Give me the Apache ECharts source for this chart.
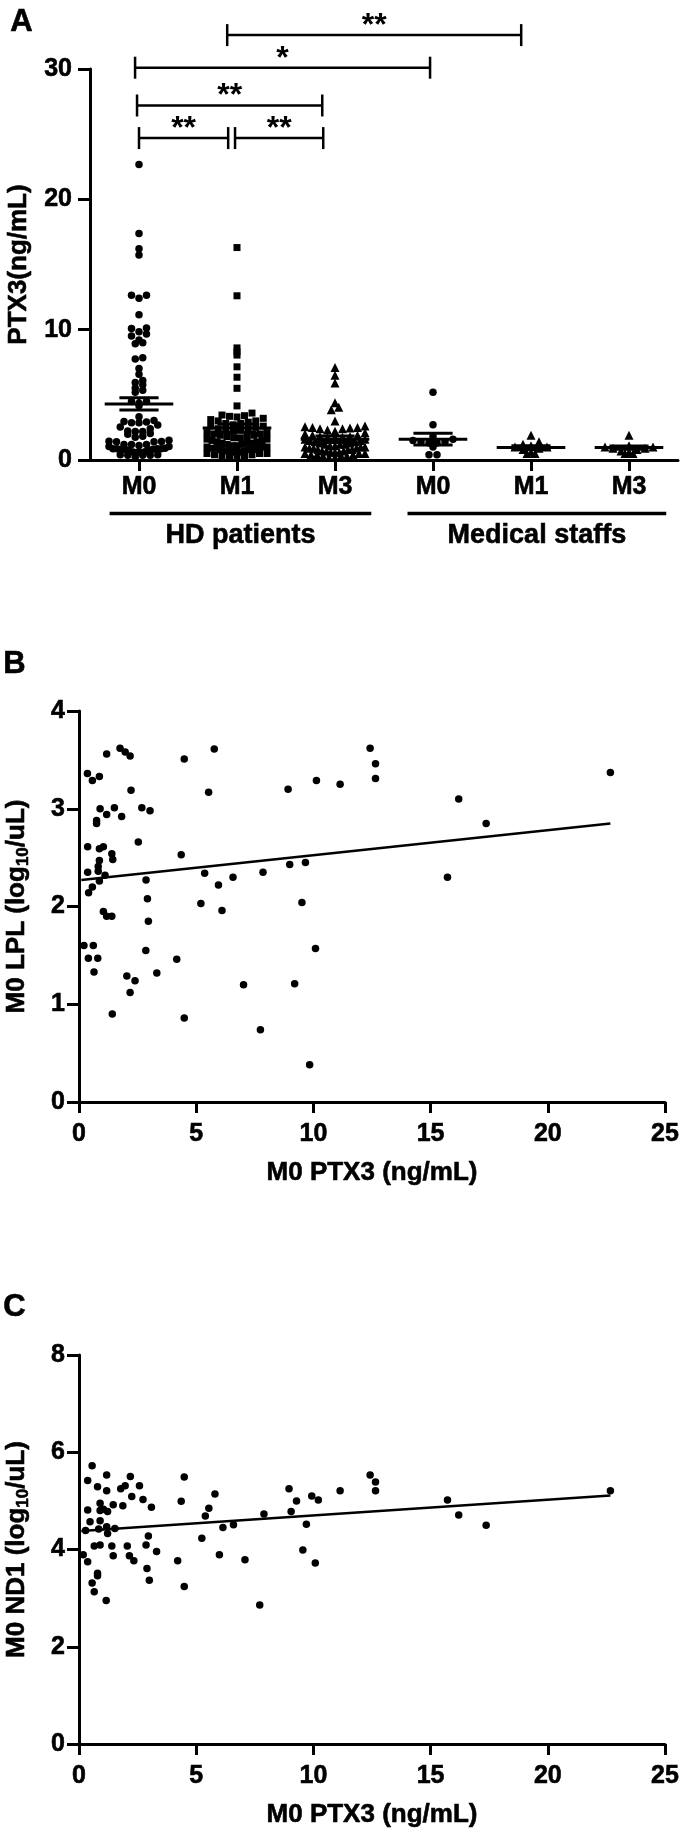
<!DOCTYPE html>
<html>
<head>
<meta charset="utf-8">
<script src="https://cdn.jsdelivr.net/npm/echarts@6/dist/echarts.min.js"></script>
<style>html,body{margin:0;background:#fff}#chart{width:685px;height:1840px}</style>
</head>
<body>
<div id="chart"></div>
<script>
// ---- panel A: PTX3 per group ----
const groupLabels = ['M0', 'M1', 'M3', 'M0', 'M1', 'M3']
const groupSymbols = ['circle', 'rect', 'triangle', 'circle', 'triangle', 'triangle']
const hdM0 = [0.21, 0.36, 0.37, 0.37, 0.4, 0.41, 0.57, 0.57, 0.61, 0.64, 0.75, 0.75, 0.8, 0.82, 0.82, 0.87, 0.87, 0.87, 0.87, 0.9,
  1.04, 1.04, 1.11, 1.18, 1.18, 1.18, 1.4, 1.4, 1.42, 1.44, 1.51, 1.75, 1.82, 1.97, 2.04, 2.18, 2.18, 2.22, 2.39, 2.53, 2.68,
  2.85, 2.86, 2.92, 2.96, 3.03, 3.32, 4.17, 4.36, 4.49, 4.49, 5.2, 5.36, 5.53, 5.77, 5.95, 6.1, 6.57, 7.02, 7.74, 7.85, 8.92,
  8.99, 9.2, 9.51, 9.66, 9.84, 10.09, 10.13, 11.14, 12.42, 12.65, 12.65, 15.72, 16.2, 17.37, 22.67]
const hdM1 = [16.3, 12.6, 8.6, 8.3, 8.05, 7.15, 6.35, 5.5, 4.15, 3.6, 3.45, 3.4, 3.35, 3.3, 3.2, 3.1, 3.0, 3.0, 2.9, 2.8, 2.8,
  2.7, 2.6, 2.6, 2.5, 2.4, 2.4, 2.3, 2.3, 2.2, 2.1, 2.1, 2.0, 2.0, 1.9, 1.9, 1.8, 1.8, 1.7, 1.7, 1.6, 1.6, 1.5, 1.5, 1.4, 1.4,
  1.3, 1.3, 1.3, 1.2, 1.2, 1.1, 1.1, 1.0, 1.0, 1.0, 0.9, 0.9, 0.9, 0.8, 0.8, 0.8, 0.7, 0.7, 0.7, 0.6, 0.6, 0.5, 0.5, 0.5, 0.4,
  0.4, 0.3, 0.3, 0.2, 0.2]
const hdM3 = [7.1, 6.5, 5.9, 4.4, 4.05, 3.85, 3.0, 2.6, 2.55, 2.5, 2.5, 2.45, 2.4, 2.4, 2.3, 2.2, 2.1, 2.0, 1.9, 1.9, 1.8, 1.8,
  1.75, 1.7, 1.7, 1.6, 1.6, 1.5, 1.5, 1.4, 1.4, 1.3, 1.3, 1.2, 1.2, 1.2, 1.1, 1.1, 1.0, 1.0, 1.0, 0.9, 0.9, 0.9, 0.8, 0.8,
  0.8, 0.7, 0.7, 0.7, 0.6, 0.6, 0.6, 0.5, 0.5, 0.5, 0.4, 0.4, 0.4, 0.3, 0.3, 0.3, 0.2, 0.2]
const staffM0 = [5.2, 2.7, 1.8, 1.6, 1.5, 1.4, 1.4, 1.3, 1.3, 1.0, 0.4, 0.4]
const staffM1 = [1.9, 1.4, 1.2, 1.1, 1.0, 1.0, 0.9, 0.8, 0.6, 0.5, 0.5]
const staffM3 = [1.9, 1.1, 1.0, 1.0, 0.9, 0.9, 0.8, 0.7, 0.6, 0.5, 0.5]
const groupMeans = [4.3, 2.45, 1.6, 1.6, 0.95, 0.95]
const groupSems = [0.47, 0.32, 0.25, 0.45, 0.15, 0.12]

const cohortNames = ['HD patients', 'Medical staffs']
const cohortFrom = [-0.3, 2.74]
const cohortTo = [2.37, 5.38]

const bracketFrom = [0.9, -0.04, -0.02, 0.0, 0.98]
const bracketTo = [3.9, 2.97, 1.87, 0.91, 1.88]
const bracketLevel = [32.6, 30.1, 27.2, 24.7, 24.7]
const bracketText = ['**', '*', '**', '**', '**']

// ---- panel B: M0 PTX3 vs M0 LPL ----
const lplPoints = [[0.36, 3.36], [0.57, 3.29], [0.87, 3.33], [1.18, 3.56], [1.75, 3.62], [1.97, 3.58], [2.18, 3.54], [2.22, 3.19],
  [0.9, 3.0], [1.18, 2.94], [1.51, 3.01], [0.75, 2.88], [0.75, 2.85], [1.82, 2.92], [2.68, 3.01], [3.03, 2.98], [2.53, 2.66],
  [0.37, 2.61], [0.87, 2.59], [1.04, 2.61], [1.4, 2.54], [1.44, 2.48], [0.87, 2.47], [0.82, 2.41], [0.82, 2.36], [0.37, 2.35],
  [0.87, 2.26], [1.11, 2.32], [0.57, 2.2], [0.41, 2.14], [2.86, 2.27], [2.92, 2.08], [1.04, 1.95], [1.18, 1.9], [1.4, 1.9],
  [2.96, 1.85], [0.21, 1.6], [0.61, 1.6], [0.4, 1.47], [0.8, 1.47], [0.64, 1.33], [2.85, 1.55], [2.04, 1.29], [2.39, 1.24],
  [2.18, 1.12], [3.32, 1.32], [1.42, 0.9], [4.49, 3.51], [5.77, 3.61], [5.53, 3.17], [4.36, 2.53], [5.36, 2.34], [5.95, 2.22],
  [6.57, 2.3], [5.2, 2.03], [6.1, 1.96], [4.17, 1.46], [4.49, 0.86], [7.02, 1.2], [7.85, 2.35], [7.74, 0.74], [8.92, 3.2],
  [8.99, 2.43], [9.66, 2.45], [9.51, 2.04], [9.2, 1.21], [10.09, 1.57], [9.84, 0.38], [10.13, 3.29], [11.14, 3.25],
  [12.42, 3.62], [12.65, 3.46], [12.65, 3.31], [15.72, 2.3], [16.2, 3.1], [17.37, 2.85], [22.67, 3.37]]
const lplFit = [[0.1, 2.27], [22.67, 2.85]]

// ---- panel C: M0 PTX3 vs M0 ND1 ----
const nd1Points = [[0.56, 5.72], [0.37, 5.42], [0.79, 5.29], [1.18, 5.53], [1.18, 5.21], [1.78, 5.25], [1.97, 5.31], [2.19, 5.5],
  [2.58, 5.31], [2.25, 5.09], [2.73, 5.03], [3.09, 4.87], [0.37, 4.81], [0.9, 4.95], [1.04, 4.83], [1.22, 4.78], [0.9, 4.8],
  [1.46, 4.92], [1.87, 4.9], [0.47, 4.57], [0.9, 4.59], [0.84, 4.42], [1.22, 4.33], [1.53, 4.43], [0.28, 4.39], [1.18, 4.47],
  [0.65, 4.07], [0.9, 4.09], [1.4, 4.07], [1.46, 3.87], [2.06, 4.07], [2.15, 3.87], [2.34, 3.77], [2.86, 4.09], [2.96, 4.28],
  [2.9, 3.61], [3.0, 3.37], [3.31, 3.96], [0.18, 3.89], [0.37, 3.75], [0.56, 3.31], [0.65, 3.13], [0.79, 3.51], [0.79, 3.46],
  [1.16, 2.95], [4.21, 3.77], [4.36, 4.99], [4.49, 5.49], [4.49, 3.24], [5.24, 4.23], [5.39, 4.69], [5.54, 4.85], [5.8, 5.14],
  [5.99, 3.89], [6.14, 4.45], [6.59, 4.51], [7.08, 3.79], [7.71, 2.86], [7.89, 4.73], [8.96, 5.25], [9.05, 4.78], [9.28, 5.0],
  [9.55, 3.99], [9.7, 4.52], [9.93, 5.1], [10.21, 5.02], [10.08, 3.72], [11.14, 5.21], [12.42, 5.53], [12.65, 5.39],
  [12.65, 5.21], [15.72, 5.02], [16.2, 4.71], [17.37, 4.5], [22.67, 5.21]]
const nd1Fit = [[0.1, 4.38], [22.67, 5.11]]

const FONT = '"Liberation Sans", Arial, sans-serif'
const gridA = { left: 90, right: 7, top: 69, height: 391 }
const pxPerCat = (685 - gridA.left - gridA.right) / groupLabels.length
const pxPerVal = gridA.height / 30

// column scatter layout: bin values into rows, spread each row around the column centre
function columnScatter(values, idx, rowPx, gapPx, halfPx) {
  const rows = new Map()
  values.slice().sort((a, b) => a - b).forEach(v => {
    const r = Math.floor(v * pxPerVal / rowPx)
    if (!rows.has(r)) rows.set(r, [])
    rows.get(r).push(v)
  })
  const out = []
  rows.forEach(vs => {
    const n = vs.length
    const sp = n > 1 ? Math.min(gapPx, 2 * halfPx / (n - 1)) : 0
    const slots = [...Array(n).keys()].map(k => (k - (n - 1) / 2) * sp)
      .sort((a, b) => Math.abs(a) - Math.abs(b) || a - b)
    vs.forEach((v, k) => out.push([idx + slots[k] / pxPerCat, v]))
  })
  return out
}

const black = '#000'
const lineW = 3
const heavy = { textBorderColor: black, textBorderWidth: 0.6 }
const tickFont = Object.assign({ color: black, fontSize: 25, fontWeight: 'bold', fontFamily: FONT }, heavy)
const nameFont = Object.assign({ color: black, fontSize: 26, fontWeight: 'bold', fontFamily: FONT }, heavy)
const axisLine = { show: true, onZero: false, lineStyle: { color: black, width: lineW } }
const axisTick = len => ({ show: true, length: len, lineStyle: { color: black, width: lineW } })

function valueAxis(grid, min, max, interval, extra) {
  return Object.assign({
    type: 'value', gridIndex: grid, min, max, interval,
    axisLine, axisTick: axisTick(12), splitLine: { show: false },
    axisLabel: Object.assign({ margin: 14, showMinLabel: true, showMaxLabel: true }, tickFont),
    nameTextStyle: nameFont, nameLocation: 'middle',
  }, extra)
}

const groups = [hdM0, hdM1, hdM3, staffM0, staffM1, staffM3]
const symbolSizes = { circle: 7.5, rect: 7, triangle: 9 }
const swarmSeries = groups.map((vals, i) => ({
  type: 'scatter', xAxisIndex: 1, yAxisIndex: 0, clip: false, silent: true,
  symbol: groupSymbols[i], symbolSize: symbolSizes[groupSymbols[i]],
  itemStyle: { color: black, opacity: 1 },
  data: i < 3 ? columnScatter(vals, i, 7, 7.5, 30) : columnScatter(vals, i, 7, 8, 24),
}))

const ln = (x1, y1, x2, y2, w) => ({ type: 'line', shape: { x1, y1, x2, y2 }, style: { stroke: black, lineWidth: w || lineW } })
const letter = t => ({ text: t, font: 'bold 31px ' + FONT, fill: black, stroke: black, lineWidth: 0.6 })
const subName = Object.assign({}, nameFont, { rich: { t: nameFont, s: Object.assign({}, nameFont, { fontSize: 17, verticalAlign: 'bottom', lineHeight: 30 }) } })

const option = {
  animation: false,
  backgroundColor: '#fff',
  graphic: [
    { type: 'text', left: 10, top: 7, style: letter('A') },
    { type: 'text', left: 3, top: 649, style: letter('B') },
    { type: 'text', left: 3, top: 1292, style: letter('C') },
  ],
  grid: [
    Object.assign({ containLabel: false, outerBoundsMode: 'none' }, gridA),
    { left: 79, right: 20, top: 711, height: 391, containLabel: false, outerBoundsMode: 'none' },
    { left: 79, right: 20, top: 1355, height: 389, containLabel: false, outerBoundsMode: 'none' },
  ],
  xAxis: [
    {
      type: 'category', gridIndex: 0, data: groupLabels, boundaryGap: true,
      axisLine, axisTick: Object.assign(axisTick(11), { alignWithLabel: true, interval: 0 }),
      axisLabel: Object.assign({ margin: 15, interval: 0 }, tickFont), splitLine: { show: false },
    },
    { type: 'value', gridIndex: 0, min: -0.5, max: groupLabels.length - 0.5, show: false },
    valueAxis(1, 0, 25, 5, { name: 'M0 PTX3 (ng/mL)', nameGap: 58, axisTick: axisTick(11), axisLabel: Object.assign({ margin: 20, showMinLabel: true, showMaxLabel: true }, tickFont) }),
    valueAxis(2, 0, 25, 5, { name: 'M0 PTX3 (ng/mL)', nameGap: 58, axisTick: axisTick(11), axisLabel: Object.assign({ margin: 20, showMinLabel: true, showMaxLabel: true }, tickFont) }),
  ],
  yAxis: [
    valueAxis(0, 0, 30, 10, { name: 'PTX3(ng/mL)', nameGap: 58, axisLabel: Object.assign({ margin: 18, showMinLabel: true, showMaxLabel: true }, tickFont) }),
    valueAxis(1, 0, 4, 1, { name: '{t|M0 LPL (log}{s|10}{t|/uL)}', nameGap: 47, nameTextStyle: subName }),
    valueAxis(2, 0, 8, 2, { name: '{t|M0 ND1 (log}{s|10}{t|/uL)}', nameGap: 47, nameTextStyle: subName }),
  ],
  series: [
    ...swarmSeries,
    {
      // mean and SEM per group
      type: 'custom', xAxisIndex: 1, yAxisIndex: 0, z: 5, silent: true,
      data: groupMeans.map((m, i) => [i, m, groupSems[i]]),
      encode: { x: 0, y: 1 },
      renderItem: (params, api) => {
        const i = api.value(0), m = api.value(1), s = api.value(2)
        const l = api.coord([i - 0.35, m]), r = api.coord([i + 0.35, m])
        const hi = api.coord([i, m + s]), lo = api.coord([i, m - s])
        const cap = 0.2 * pxPerCat
        return {
          type: 'group', children: [
            ln(l[0], l[1], r[0], r[1]),
            ln(hi[0], hi[1], lo[0], lo[1]),
            ln(hi[0] - cap, hi[1], hi[0] + cap, hi[1]),
            ln(lo[0] - cap, lo[1], lo[0] + cap, lo[1]),
          ],
        }
      },
    },
    {
      // significance brackets
      type: 'custom', xAxisIndex: 1, yAxisIndex: 0, z: 5, silent: true, clip: false,
      data: bracketFrom.map((f, i) => [f, bracketTo[i], bracketLevel[i], i]),
      encode: { x: [0, 1], y: 2 },
      renderItem: (params, api) => {
        const a = api.coord([api.value(0), api.value(2)])
        const b = api.coord([api.value(1), api.value(2)])
        const h = 11
        return {
          type: 'group', children: [
            ln(a[0], a[1], b[0], b[1], 2.5),
            ln(a[0], a[1] - h, a[0], a[1] + h, 2.5),
            ln(b[0], b[1] - h, b[0], b[1] + h, 2.5),
            {
              type: 'text', style: {
                text: bracketText[api.value(3)], x: (a[0] + b[0]) / 2, y: a[1] + 7,
                align: 'center', verticalAlign: 'bottom', font: 'bold 32px ' + FONT, fill: black,
              },
            },
          ],
        }
      },
    },
    {
      // cohort underline + name
      type: 'custom', xAxisIndex: 1, yAxisIndex: 0, silent: true, clip: false,
      data: cohortFrom.map((f, i) => [f, cohortTo[i], i]),
      encode: { x: [0, 1] },
      renderItem: (params, api) => {
        const a = api.coord([api.value(0), -4.1])
        const b = api.coord([api.value(1), -4.1])
        const t = api.coord([(api.value(0) + api.value(1)) / 2, -5.8])
        return {
          type: 'group', children: [
            ln(a[0], a[1], b[0], b[1], 3.5),
            {
              type: 'text', style: {
                text: cohortNames[api.value(2)], x: t[0], y: t[1], align: 'center', verticalAlign: 'middle',
                font: 'bold 27px ' + FONT, fill: black, stroke: black, lineWidth: 0.6,
              },
            },
          ],
        }
      },
    },
    {
      type: 'scatter', xAxisIndex: 2, yAxisIndex: 1, symbol: 'circle', symbolSize: 7.5, clip: false, silent: true,
      itemStyle: { color: black, opacity: 1 }, data: lplPoints,
    },
    {
      type: 'line', xAxisIndex: 2, yAxisIndex: 1, symbol: 'none', silent: true,
      lineStyle: { color: black, width: 2.5 }, data: lplFit,
    },
    {
      type: 'scatter', xAxisIndex: 3, yAxisIndex: 2, symbol: 'circle', symbolSize: 7.5, clip: false, silent: true,
      itemStyle: { color: black, opacity: 1 }, data: nd1Points,
    },
    {
      type: 'line', xAxisIndex: 3, yAxisIndex: 2, symbol: 'none', silent: true,
      lineStyle: { color: black, width: 2.5 }, data: nd1Fit,
    },
  ],
}

const chart = echarts.init(document.getElementById('chart'))
chart.setOption(option)
</script>
</body>
</html>
